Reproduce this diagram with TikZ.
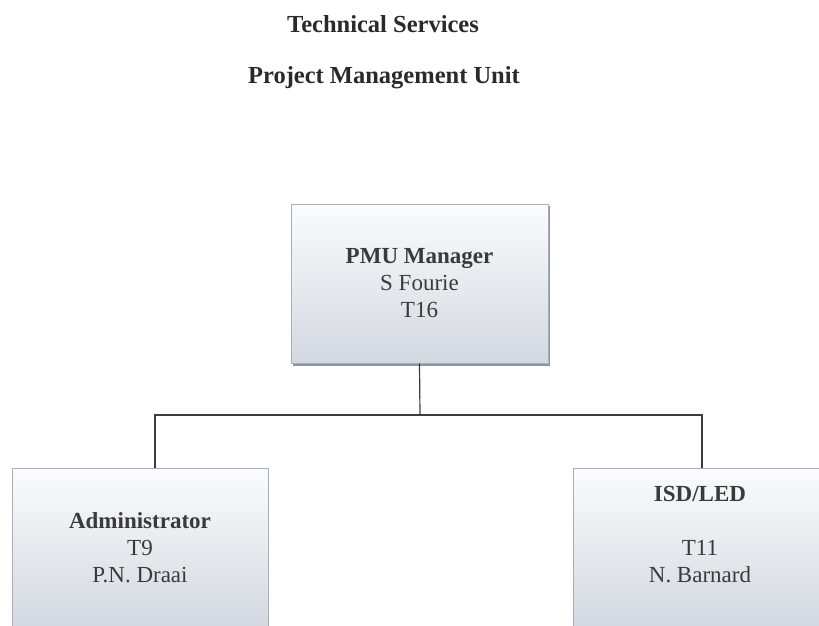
\documentclass[tikz,border=0pt]{standalone}
\usepackage{fontspec}
\setmainfont{Liberation Serif}
\begin{document}
\begin{tikzpicture}[x=1pt,y=-1pt,
  orgbox/.style={draw=boxline, line width=0.8pt, top color=boxtop, bottom color=boxbot,
     align=center, inner sep=0pt, text=txt, font=\fontsize{23}{27}\selectfont},
  title/.style={font=\fontsize{24.5}{27}\selectfont\bfseries, text=ttl},
  link/.style={draw=linec, line width=1.2pt}]
\definecolor{boxline}{HTML}{A9B0BD}
\definecolor{boxtop}{HTML}{FAFBFC}
\definecolor{boxbot}{HTML}{D3D8E0}
\definecolor{txt}{HTML}{3A3A3A}
\definecolor{ttl}{HTML}{2A2A2A}
\definecolor{linec}{HTML}{3C3C3C}
\definecolor{shadowc}{HTML}{8E949E}
\useasboundingbox (0,0) rectangle (819,626);
\clip (0,0) rectangle (819,626);
\node[title] (t1) at (383,24) {Technical Services};
\node[title] (t2) at (384,78) {Project Management Unit};
% shadow
\fill[shadowc] (293,206) rectangle (550,366);
\node[orgbox, minimum width=257pt, minimum height=159pt] (pmu) at (419.5,283.5)
  {\textbf{PMU Manager}\\S Fourie\\T16};
\node[orgbox, minimum width=256pt, minimum height=160pt] (adm) at (140,548)
  {\textbf{Administrator}\\T9\\P.N. Draai};
\node[orgbox, minimum width=254pt, minimum height=160pt] (isd) at (700,548)
  {\textbf{ISD/LED}\\[27pt]T11\\N. Barnard\\\mbox{}};
\coordinate (j) at (420,415);
\draw[link] (pmu.south) -- (j);
\draw[link] (j) -| ([xshift=15pt]adm.north);
\draw[link] (j) -| ([xshift=2pt]isd.north);
\end{tikzpicture}
\end{document}
